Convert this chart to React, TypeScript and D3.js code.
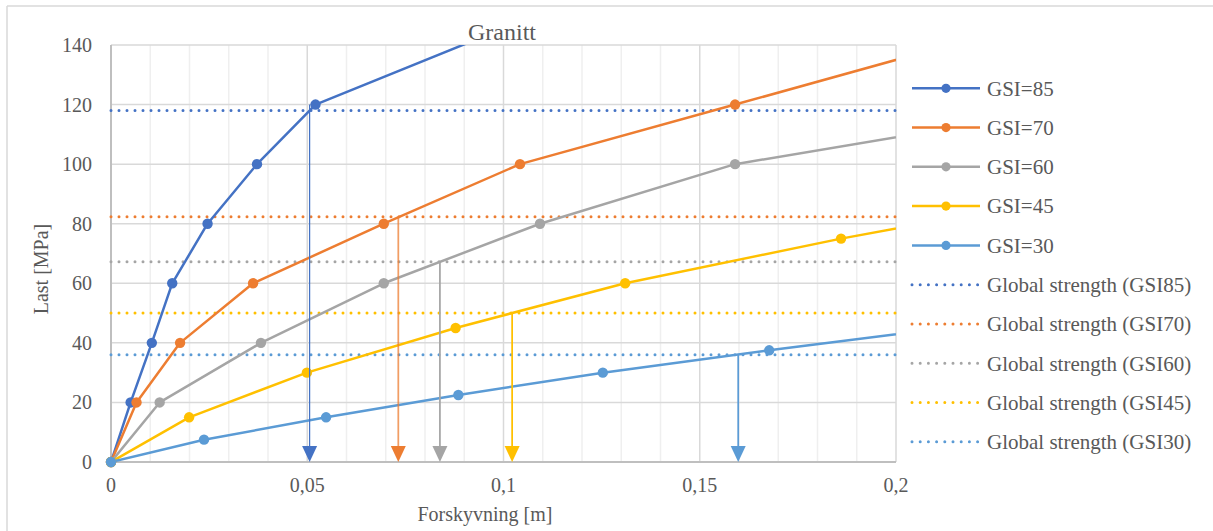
import React from "react";
import * as d3 from "d3";

const seriesNames = ["GSI=85", "GSI=70", "GSI=60", "GSI=45", "GSI=30"];
const seriesColors = ["#4472C4", "#ED7D31", "#A5A5A5", "#FFC000", "#5B9BD5"];

const gsi85: [number, number][] = [[0, 0], [0.005, 20], [0.0104, 40], [0.0156, 60], [0.0246, 80], [0.0372, 100], [0.0521, 120], [0.1271, 160]];
const gsi70: [number, number][] = [[0, 0], [0.0065, 20], [0.0176, 40], [0.0362, 60], [0.0695, 80], [0.1042, 100], [0.159, 120], [0.2137, 140]];
const gsi60: [number, number][] = [[0, 0], [0.0124, 20], [0.0382, 40], [0.0695, 60], [0.1093, 80], [0.159, 100], [0.25, 120]];
const gsi45: [number, number][] = [[0, 0], [0.0199, 15], [0.0499, 30], [0.0878, 45], [0.131, 60], [0.186, 75], [0.248, 90]];
const gsi30: [number, number][] = [[0, 0], [0.0237, 7.5], [0.0548, 15], [0.0885, 22.5], [0.1253, 30], [0.1677, 37.5], [0.2126, 45]];
const seriesData = [gsi85, gsi70, gsi60, gsi45, gsi30];

const strengthNames = [
  "Global strength (GSI85)",
  "Global strength (GSI70)",
  "Global strength (GSI60)",
  "Global strength (GSI45)",
  "Global strength (GSI30)",
];
const strengthValues = [118, 82.3, 67.2, 50, 36];

// arrows: x position and top value
const arrowX = [0.0506, 0.0732, 0.0838, 0.1022, 0.1598];
const arrowTop = [120, 82.3, 67.2, 50, 36];

const xTicks = [0, 0.05, 0.1, 0.15, 0.2];
const xTickLabels = ["0", "0,05", "0,1", "0,15", "0,2"];
const xMinor = [0.01, 0.02, 0.03, 0.04, 0.06, 0.07, 0.08, 0.09, 0.11, 0.12, 0.13, 0.14, 0.16, 0.17, 0.18, 0.19];
const yTicks = [0, 20, 40, 60, 80, 100, 120, 140];

const FONT = '"Liberation Serif", Tinos, "DejaVu Serif", serif';
const TXT = "#595959";
const textStyle: React.CSSProperties = { fontFamily: FONT, fill: TXT };

export default function App() {
  const x = d3.scaleLinear().domain([0, 0.2]).range([111, 896]);
  const y = d3.scaleLinear().domain([0, 140]).range([462, 45]);
  const line = d3.line<[number, number]>().x((d) => x(d[0])).y((d) => y(d[1]));

  const legendX0 = 912;
  const legendX1 = 980;
  const legendY0 = 88.3;
  const legendStep = 39.27;

  return (
    <svg width={1213} height={531} style={{ position: "absolute", left: 0, top: 0, background: "#fff" }}>
      <defs>
        <clipPath id="plotClip">
          <rect x={111} y={45} width={785} height={417} />
        </clipPath>
      </defs>
      <rect x={0} y={0} width={1213} height={531} fill="#fff" />
      {/* chart border */}
      <line x1={7} x2={1213} y1={6} y2={6} stroke="#d9d9d9" strokeWidth={1.5} />
      <line x1={7} x2={7} y1={6} y2={531} stroke="#d9d9d9" strokeWidth={1.5} />

      {/* minor vertical grid */}
      {xMinor.map((v) => (
        <line key={"mn" + v} x1={x(v)} x2={x(v)} y1={y(140)} y2={y(0)} stroke="#efefef" strokeWidth={1.5} />
      ))}
      {/* major vertical grid */}
      {xTicks.map((v) => (
        <line key={"mj" + v} x1={x(v)} x2={x(v)} y1={y(140)} y2={y(0)} stroke="#d9d9d9" strokeWidth={1.5} />
      ))}
      {/* horizontal grid */}
      {yTicks.map((v) => (
        <line key={"h" + v} x1={x(0)} x2={x(0.2)} y1={y(v)} y2={y(v)} stroke="#d9d9d9" strokeWidth={1.5} />
      ))}
      {/* axes */}
      <line x1={x(0)} x2={x(0.2)} y1={y(0)} y2={y(0)} stroke="#bfbfbf" strokeWidth={2} />
      <line x1={x(0)} x2={x(0)} y1={y(0)} y2={y(140)} stroke="#bfbfbf" strokeWidth={2} />

      {/* global strength dotted lines */}
      {strengthValues.map((v, i) => (
        <line
          key={"s" + i}
          x1={x(0)}
          x2={x(0.2)}
          y1={y(v)}
          y2={y(v)}
          stroke={seriesColors[i]}
          strokeWidth={3}
          strokeDasharray="0 8"
          strokeLinecap="round"
        />
      ))}

      {/* series */}
      <g clipPath="url(#plotClip)">
        {seriesData.map((data, i) => (
          <path key={"p" + i} d={line(data) || ""} fill="none" stroke={seriesColors[i]} strokeWidth={2.5} strokeLinejoin="round" />
        ))}
      </g>
      {seriesData.map((data, i) => (
        <g key={"m" + i}>
          {data
            .filter((d) => d[0] <= 0.2 && d[1] <= 140)
            .map((d, j) => (
              <circle key={j} cx={x(d[0])} cy={y(d[1])} r={5.2} fill={seriesColors[i]} />
            ))}
        </g>
      ))}

      {/* arrows */}
      {arrowX.map((v, i) => {
        const ax = x(v);
        const tip = y(0);
        return (
          <g key={"a" + i}>
            <line x1={ax} x2={ax} y1={y(arrowTop[i])} y2={tip - 14} stroke={seriesColors[i]} strokeWidth={i === 0 ? 1.25 : 1.75} opacity={i === 1 ? 0.75 : 1} />
            <path d={`M${ax - 7.5},${tip - 16} L${ax + 7.5},${tip - 16} L${ax},${tip} Z`} fill={seriesColors[i]} />
          </g>
        );
      })}

      {/* y tick labels */}
      {yTicks.map((v) => (
        <text key={"yt" + v} x={92} y={y(v)} dy="0.35em" textAnchor="end" fontSize={20} style={textStyle}>
          {v}
        </text>
      ))}
      {/* x tick labels */}
      {xTicks.map((v, i) => (
        <text key={"xt" + v} x={x(v)} y={492} textAnchor="middle" fontSize={20} style={textStyle}>
          {xTickLabels[i]}
        </text>
      ))}

      {/* titles */}
      <text x={502} y={40} textAnchor="middle" fontSize={24} style={textStyle}>
        Granitt
      </text>
      <text x={485} y={521} textAnchor="middle" fontSize={20} style={textStyle}>
        Forskyvning [m]
      </text>
      <text transform={`translate(48,269) rotate(-90)`} textAnchor="middle" fontSize={20} style={textStyle}>
        Last [MPa]
      </text>

      {/* legend */}
      {seriesNames.map((name, i) => {
        const ly = legendY0 + i * legendStep;
        return (
          <g key={"l" + i}>
            <line x1={legendX0} x2={legendX1} y1={ly} y2={ly} stroke={seriesColors[i]} strokeWidth={2.5} />
            <circle cx={(legendX0 + legendX1) / 2} cy={ly} r={4.6} fill={seriesColors[i]} />
            <text x={987} y={ly} dy="0.35em" fontSize={21} style={textStyle}>
              {name}
            </text>
          </g>
        );
      })}
      {strengthNames.map((name, i) => {
        const ly = legendY0 + (i + 5) * legendStep;
        return (
          <g key={"ls" + i}>
            <line
              x1={legendX0}
              x2={legendX1 - 2}
              y1={ly}
              y2={ly}
              stroke={seriesColors[i]}
              strokeWidth={3}
              strokeDasharray="0 8.2"
              strokeLinecap="round"
            />
            <text x={987} y={ly} dy="0.35em" fontSize={21} style={textStyle}>
              {name}
            </text>
          </g>
        );
      })}
    </svg>
  );
}
